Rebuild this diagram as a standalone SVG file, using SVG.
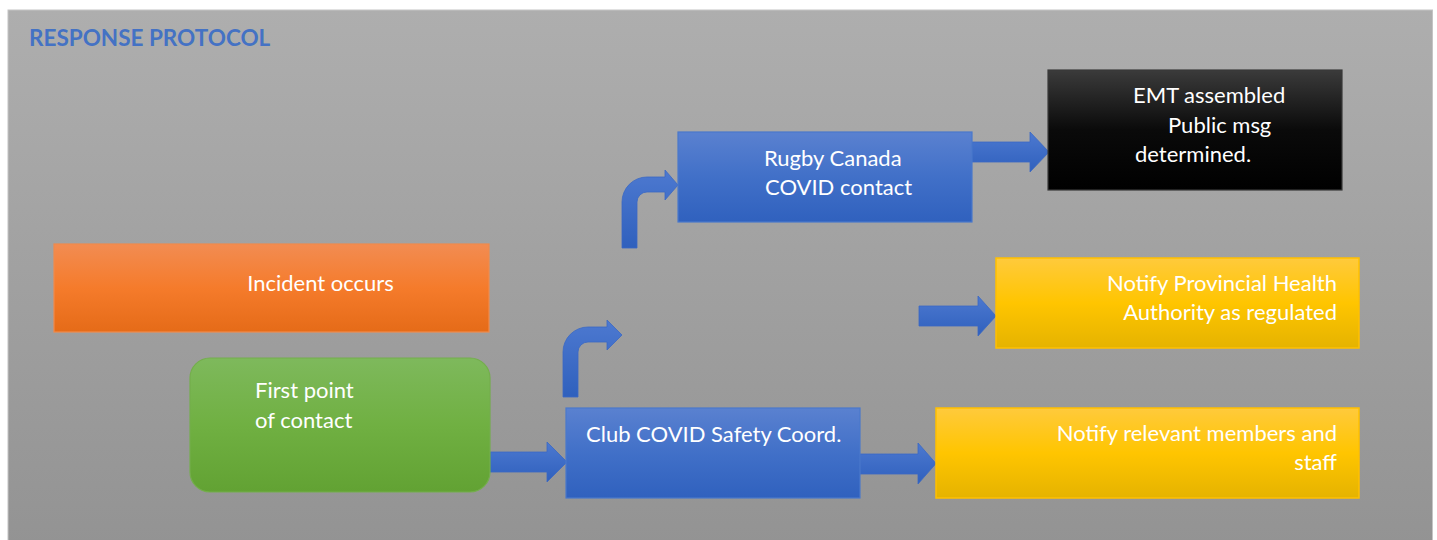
<svg xmlns="http://www.w3.org/2000/svg" width="1437" height="540" viewBox="0 0 1437 540">
<defs>
<linearGradient id="bg" x1="0" y1="0" x2="0" y2="1"><stop offset="0" stop-color="#aeaeae"/><stop offset="1" stop-color="#939393"/></linearGradient>
<linearGradient id="gBlue" x1="0" y1="0" x2="0" y2="1"><stop offset="0" stop-color="#5a81d0"/><stop offset="0.5" stop-color="#4170c8"/><stop offset="1" stop-color="#3061be"/></linearGradient>
<linearGradient id="gArrow" x1="0" y1="0" x2="0" y2="1"><stop offset="0" stop-color="#4d79d0"/><stop offset="1" stop-color="#2f60bd"/></linearGradient>
<linearGradient id="gOrange" x1="0" y1="0" x2="0" y2="1"><stop offset="0" stop-color="#f28c52"/><stop offset="0.5" stop-color="#f57b2b"/><stop offset="1" stop-color="#e56b18"/></linearGradient>
<linearGradient id="gGreen" x1="0" y1="0" x2="0" y2="1"><stop offset="0" stop-color="#7eb95c"/><stop offset="0.5" stop-color="#70b042"/><stop offset="1" stop-color="#62a233"/></linearGradient>
<linearGradient id="gYellow" x1="0" y1="0" x2="0" y2="1"><stop offset="0" stop-color="#ffca3c"/><stop offset="0.5" stop-color="#ffc500"/><stop offset="1" stop-color="#e5b300"/></linearGradient>
<linearGradient id="gBlack" x1="0" y1="0" x2="0" y2="1"><stop offset="0" stop-color="#3b3b3b"/><stop offset="0.5" stop-color="#0a0a0a"/><stop offset="1" stop-color="#000000"/></linearGradient>
</defs>
<style>
.t{font-family:"Lato","Open Sans","Liberation Sans",sans-serif;font-size:22px;fill:#ffffff}
.title{font-family:"Lato","Open Sans","Liberation Sans",sans-serif;font-size:22.5px;font-weight:bold;fill:#4472c4}
.blue{fill:url(#gBlue);stroke:#4a78cc;stroke-width:1.2}
.arrow{fill:url(#gArrow);stroke:#3a68c4;stroke-width:0.8}
.orange{fill:url(#gOrange);stroke:#f08a4c;stroke-width:1.2}
.green{fill:url(#gGreen);stroke:#74ae4c;stroke-width:1.2}
.yellow{fill:url(#gYellow);stroke:#ffc000;stroke-width:1.5}
.black{fill:url(#gBlack);stroke:#3a3a3a;stroke-width:1.2}
</style>
<rect x="0" y="0" width="1437" height="540" fill="#ffffff"/>
<rect x="8" y="10" width="1424.5" height="535" fill="url(#bg)" stroke="#c4c4c4" stroke-width="1"/>
<text class="title" x="29" y="46">RESPONSE PROTOCOL</text>

<g id="connectors">
<path class="arrow" d="M490,452 L547,452 L547,442 L567,462 L547,482 L547,472 L490,472 Z"/>
<path class="arrow" d="M860,454 L918,454 L918,443 L936,463.5 L918,484 L918,474 L860,474 Z"/>
<path class="arrow" d="M972,142 L1030,142 L1030,132 L1049,152 L1030,172 L1030,162 L972,162 Z"/>
<path class="arrow" d="M919,306 L978,306 L978,296 L996,316 L978,336 L978,326 L919,326 Z"/>
<path class="arrow" d="M563,397 L563,352 A25,25 0 0 1 588,327 L607,327 L607,320 L622,335 L607,350 L607,342 L588,342 A10,10 0 0 0 578,352 L578,397 Z"/>
<path class="arrow" d="M622,248 L622,202 A25,25 0 0 1 647,177 L665,177 L665,170 L678,185 L665,200 L665,192 L647,192 A10,10 0 0 0 637,202 L637,248 Z"/>
</g>

<g id="incident">
<rect class="orange" x="54" y="244" width="435" height="88"/>
<text class="t" x="320.5" y="291" text-anchor="middle">Incident occurs</text>
</g>
<g id="first-contact">
<rect class="green" x="190" y="358" width="300" height="134" rx="20" ry="20"/>
<text class="t" x="255" y="398">First point</text>
<text class="t" x="255" y="428">of contact</text>
</g>
<g id="club-coord">
<rect class="blue" x="566" y="408" width="294" height="90"/>
<text class="t" x="586" y="442">Club COVID Safety Coord.</text>
</g>
<g id="rugby-canada">
<rect class="blue" x="678" y="132" width="294" height="90"/>
<text class="t" x="764" y="166">Rugby Canada</text>
<text class="t" x="765" y="195">COVID contact</text>
</g>
<g id="emt">
<rect class="black" x="1048" y="70" width="294" height="120"/>
<text class="t" x="1133" y="103">EMT assembled</text>
<text class="t" x="1168" y="133">Public msg</text>
<text class="t" x="1135" y="162">determined.</text>
</g>
<g id="notify-health">
<rect class="yellow" x="996" y="258" width="363" height="90"/>
<text class="t" x="1337" y="291" text-anchor="end">Notify Provincial Health</text>
<text class="t" x="1337" y="320" text-anchor="end">Authority as regulated</text>
</g>
<g id="notify-members">
<rect class="yellow" x="936" y="408" width="423" height="90"/>
<text class="t" x="1337" y="441" text-anchor="end">Notify relevant members and</text>
<text class="t" x="1337" y="470" text-anchor="end">staff</text>
</g>
</svg>
